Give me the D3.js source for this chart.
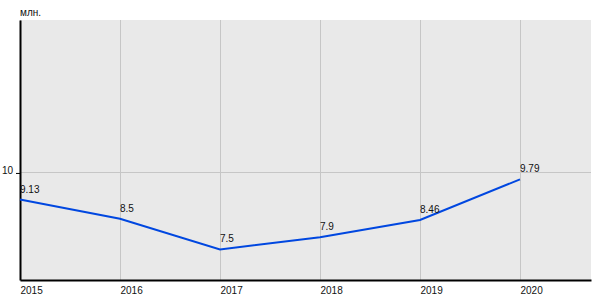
<!DOCTYPE html>
<html>
<head>
<meta charset="utf-8">
<script src="https://cdn.jsdelivr.net/npm/d3@7"></script>
<style>
  body { margin: 0; background: #fff; }
  text { font-family: "Liberation Sans", Arial, sans-serif; font-size: 10px; fill: #111; }
</style>
</head>
<body>
<div id="chart"></div>
<script>
var years = [2015, 2016, 2017, 2018, 2019, 2020];
var values = [9.13, 8.5, 7.5, 7.9, 8.46, 9.79];
var yTicks = [10];
var unitLabel = "млн.";

var width = 600, height = 300,
    margin = {top: 20, right: 9, bottom: 20, left: 20};

var svg = d3.select("#chart").append("svg")
    .attr("width", width).attr("height", height);

var iw = width - margin.left - margin.right,
    ih = height - margin.top - margin.bottom;

var g = svg.append("g").attr("transform", "translate(" + margin.left + "," + margin.top + ")");

var x = d3.scaleLinear().domain([2015, 2020.71]).range([0, iw]);
var y = d3.scaleLinear().domain([6.5, 15]).range([ih, 0]);

g.append("rect").attr("width", iw).attr("height", ih).attr("fill", "#e9e9e9");

// grid
g.selectAll(".vg").data(years).enter().append("line")
    .attr("x1", function(d){ return x(d); }).attr("x2", function(d){ return x(d); })
    .attr("y1", 0).attr("y2", ih)
    .attr("stroke", "#c6c6c6").attr("stroke-width", 1).attr("shape-rendering", "crispEdges");
g.selectAll(".hg").data(yTicks).enter().append("line")
    .attr("x1", 0).attr("x2", iw)
    .attr("y1", function(d){ return y(d); }).attr("y2", function(d){ return y(d); })
    .attr("stroke", "#c6c6c6").attr("stroke-width", 1).attr("shape-rendering", "crispEdges");

// axes
var xAxis = d3.axisBottom(x).tickValues(years).tickFormat(d3.format("d")).tickSize(0).tickPadding(7);
var gx = g.append("g").attr("transform", "translate(0," + ih + ")").call(xAxis);
gx.select(".domain").attr("stroke", "#000").attr("stroke-width", 2);
gx.selectAll("text").attr("text-anchor", "start").attr("font-size", 10).attr("font-family", null);

var yAxis = d3.axisLeft(y).tickValues(yTicks).tickSizeInner(4).tickSizeOuter(0).tickPadding(3);
var gy = g.append("g").call(yAxis);
gy.select(".domain").attr("stroke", "#000").attr("stroke-width", 2);
gy.selectAll("line").attr("stroke", "#000");
gy.selectAll("text").attr("font-size", 10).attr("font-family", null).attr("dy", "0.1em");

// line
var data = years.map(function(d, i){ return {year: d, value: values[i]}; });
var line = d3.line()
    .x(function(d){ return x(d.year); })
    .y(function(d){ return y(d.value); });
g.append("path").datum(data)
    .attr("d", line)
    .attr("fill", "none")
    .attr("stroke", "#0047e0")
    .attr("stroke-width", 2);

// value labels
g.selectAll(".lbl").data(data).enter().append("text")
    .attr("x", function(d){ return x(d.year); })
    .attr("y", function(d){ return y(d.value) - 7; })
    .attr("font-size", 10)
    .text(function(d){ return d.value; });

svg.append("text").attr("x", 20).attr("y", 16).attr("font-size", 10).text(unitLabel);
</script>
</body>
</html>
